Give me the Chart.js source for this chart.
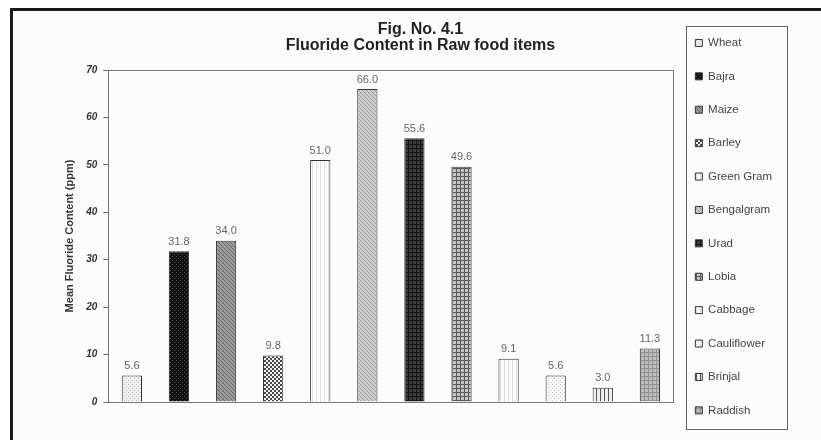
<!DOCTYPE html>
<html>
<head>
<meta charset="utf-8">
<script src="https://cdn.jsdelivr.net/npm/chart.js@4.4.0/dist/chart.umd.min.js"></script>
<style>
html, body { margin: 0; padding: 0; background: #fff; }
#wrap { position: relative; width: 821px; height: 440px; overflow: hidden; }
#frame { position: absolute; left: 10px; top: 8px; width: 900px; height: 500px; border-left: 3px solid #1a1a1a; border-top: 3px solid #1a1a1a; background: #fcfcfc; }
canvas { position: absolute; left: 0; top: 0; }
</style>
</head>
<body>
<div id="wrap"><div id="frame"></div><canvas id="c" width="821" height="440"></canvas></div>
<script>
const foods = ["Wheat", "Bajra", "Maize", "Barley", "Green Gram", "Bengalgram", "Urad", "Lobia", "Cabbage", "Cauliflower", "Brinjal", "Raddish"];
const fluoride = [5.6, 31.8, 34.0, 9.8, 51.0, 66.0, 55.6, 49.6, 9.1, 5.6, 3.0, 11.3];
const titleLines = ["Fig. No. 4.1", "Fluoride Content in Raw food items"];
const yTitle = "Mean Fluoride Content (ppm)";

// fill pattern for each bar: [kind, background, foreground]
const fillSpecs = [
  ["dots", "#efefef", "#bdbdbd"],
  ["dots", "#111111", "#4a4a4a"],
  ["diag", "#9a9a9a", "#6a6a6a"],
  ["check", "#f4f4f4", "#474747"],
  ["vert", "#fafafa", "#dedede"],
  ["diag", "#cdcdcd", "#9c9c9c"],
  ["grid", "#3a3a3a", "#151515"],
  ["grid", "#c4c4c4", "#5a5a5a"],
  ["vert", "#fbfbfb", "#dcdcdc"],
  ["dots", "#f6f6f6", "#cccccc"],
  ["vert", "#eeeeee", "#555555"],
  ["grid", "#bdbdbd", "#939393"]
];

function makePattern(kind, bg, fg) {
  const p = document.createElement("canvas");
  p.width = 4; p.height = 4;
  const g = p.getContext("2d");
  g.fillStyle = bg; g.fillRect(0, 0, 4, 4);
  g.fillStyle = fg;
  if (kind === "dots") { g.fillRect(0, 0, 1, 1); g.fillRect(2, 2, 1, 1); }
  else if (kind === "diag") { for (let i = 0; i < 4; i++) g.fillRect(i, i, 1, 1); }
  else if (kind === "check") { g.fillRect(0, 0, 2, 2); g.fillRect(2, 2, 2, 2); }
  else if (kind === "grid") { g.fillRect(0, 0, 4, 1); g.fillRect(0, 0, 1, 4); }
  else if (kind === "vert") { g.fillRect(0, 0, 1, 4); }
  return g.createPattern(p, "repeat");
}
const fills = fillSpecs.map(s => makePattern(s[0], s[1], s[2]));

Chart.defaults.font.family = "'Liberation Sans', Arial, sans-serif";

// plot box + legend box + value labels
const decor = {
  id: "decor",
  afterDatasetsDraw(chart) {
    const ctx = chart.ctx;
    const meta = chart.getDatasetMeta(0);
    ctx.save();
    ctx.fillStyle = "#666";
    ctx.font = "11px 'Liberation Sans', Arial, sans-serif";
    ctx.textAlign = "center";
    ctx.textBaseline = "bottom";
    meta.data.forEach((bar, i) => {
      ctx.fillText(fluoride[i].toFixed(1), bar.x, bar.y - 4);
    });
    ctx.restore();
  },
  afterDraw(chart) {
    const ctx = chart.ctx;
    const a = chart.chartArea;
    ctx.save();
    ctx.strokeStyle = "#777";
    ctx.lineWidth = 1;
    ctx.strokeRect(Math.round(a.left) + 0.5, Math.round(a.top) + 0.5, Math.round(a.right - a.left), Math.round(a.bottom - a.top));
    const hb = chart.legend.legendHitBoxes;
    if (hb && hb.length) {
      const first = hb[0], last = hb[hb.length - 1];
      const x = Math.round(first.left - 9) + 0.5;
      const y = Math.round(first.top - 11) + 0.5;
      const bottom = Math.round(last.top + last.height + 13) + 0.5;
      ctx.strokeStyle = "#666";
      ctx.strokeRect(x, y, 101, bottom - y);
    }
    ctx.restore();
  }
};

new Chart(document.getElementById("c"), {
  type: "bar",
  data: {
    labels: foods,
    datasets: [{
      data: fluoride,
      backgroundColor: fills,
      borderColor: "#333",
      borderWidth: 1,
      barPercentage: 0.43,
      categoryPercentage: 1
    }]
  },
  options: {
    responsive: false,
    animation: false,
    layout: { padding: { left: 59, right: 39, top: 15.3, bottom: 0 } },
    plugins: {
      title: {
        display: true,
        text: titleLines,
        color: "#222",
        font: { size: 16, weight: "bold", lineHeight: 1.0 },
        padding: { top: 6.5, bottom: 16.2 }
      },
      legend: {
        position: "right",
        fullSize: true,
        align: "start",
        labels: {
          boxWidth: 7,
          boxHeight: 7,
          padding: 21.9,
          color: "#444",
          font: { size: 11.5 },
          generateLabels: () => foods.map((t, i) => ({
            text: t, fillStyle: fills[i], strokeStyle: "#333", lineWidth: 1,
            hidden: false, index: i, datasetIndex: 0, fontColor: "#444"
          }))
        }
      },
      tooltip: { enabled: false }
    },
    scales: {
      x: {
        display: true,
        ticks: { display: false },
        grid: { display: false },
        border: { display: false },
        afterFit: (scale) => { scale.height = 38; }
      },
      y: {
        min: 0, max: 70,
        ticks: { stepSize: 10, padding: 6, color: "#333", font: { size: 10, style: "italic", weight: "bold" } },
        grid: { drawOnChartArea: false, drawTicks: true, tickLength: 5, color: "#666" },
        border: { display: true, color: "#666" },
        title: { display: true, text: yTitle, color: "#333", font: { size: 11, weight: "bold" }, padding: { top: 4, bottom: 4 } }
      }
    }
  },
  plugins: [decor]
});
</script>
</body>
</html>
